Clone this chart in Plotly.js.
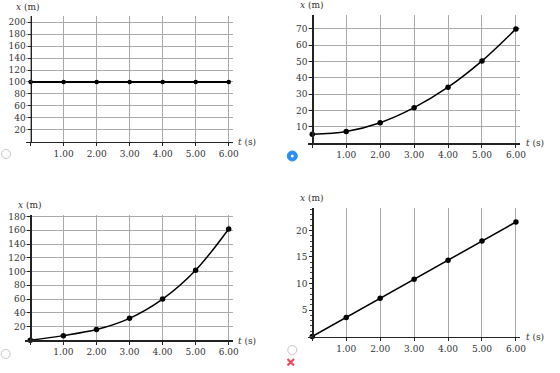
<!DOCTYPE html>
<html>
<head>
<meta charset="utf-8">
<script src="https://cdn.plot.ly/plotly-3.0.1.min.js"></script>
<style>html,body{margin:0;padding:0;background:#fff;}#chart{width:560px;height:373px;}</style>
</head>
<body>
<div id="chart"></div>
<script>
// ---- data ----
const t = [0, 1, 2, 3, 4, 5, 6];
const xA = [100, 100, 100, 100, 100, 100, 100];
const xB = [5.5, 7.2, 12.6, 21.8, 34.3, 50.4, 70];
const xC = [0, 6.8, 15.6, 32, 60, 102, 162];
const xD = [0, 3.6, 7.2, 10.8, 14.4, 18, 21.6];
const tTickVals = [0, 1, 2, 3, 4, 5, 6];
const tTickText = ['', '1.00', '2.00', '3.00', '4.00', '5.00', '6.00'];
const yTicksA = [20, 40, 60, 80, 100, 120, 140, 160, 180, 200];
const yTicksB = [10, 20, 30, 40, 50, 60, 70];
const yTicksC = [20, 40, 60, 80, 100, 120, 140, 160, 180];
const yTicksD = [5, 10, 15, 20];
const yGridD = [10, 20];
const xTitle = '<i>x</i> (m)';
const tTitle = '<i>t</i> (s)';

const W = 560, H = 373;
const px = v => v / W;
const py = v => 1 - v / H;
const FONT = {family: 'DejaVu Serif, serif', size: 9, color: '#333'};
const GRID = '#aaaaaa';

function mk(x, y, xa, ya, shape, lw, ms) {
  return {x: x, y: y, xaxis: xa, yaxis: ya, type: 'scatter', mode: 'lines+markers',
    line: {color: '#000', width: lw, shape: shape, smoothing: 1},
    marker: {color: '#000', size: ms}, cliponaxis: false, showlegend: false, hoverinfo: 'skip'};
}
const data = [
  mk(t, xA, 'x', 'y', 'linear', 2.2, 4.5),
  mk(t, xB, 'x2', 'y2', 'spline', 1.5, 5.5),
  mk(t, xC, 'x3', 'y3', 'spline', 1.5, 5.5),
  mk(t, xD, 'x4', 'y4', 'linear', 1.5, 5.5)
];

function xax(dom, rng, anchor) {
  return {domain: dom, range: rng, anchor: anchor, tickvals: tTickVals, ticktext: tTickText,
    showgrid: true, gridcolor: GRID, gridwidth: 1, zeroline: false, showline: true,
    linecolor: '#222', linewidth: 1.2, ticks: 'outside', ticklen: 3, tickcolor: '#222',
    tickfont: FONT, fixedrange: true};
}
function yax(dom, rng, pos, tv, grid) {
  return {domain: dom, range: rng, anchor: 'free', position: pos, tickvals: tv,
    showgrid: grid, gridcolor: GRID, gridwidth: 1, zeroline: false, showline: true,
    linecolor: '#222', linewidth: 1.2, ticks: 'outside', ticklen: 3, tickcolor: '#222',
    tickfont: FONT, fixedrange: true};
}

const layout = {
  width: W, height: H, autosize: false,
  margin: {l: 0, r: 0, t: 0, b: 0},
  paper_bgcolor: '#fff', plot_bgcolor: '#fff',
  xaxis: xax([px(26), px(232.7)], [-0.14, 6.12], 'y'),
  yaxis: yax([py(141.7), py(16)], [0, 210.5], px(30.6), yTicksA, true),
  xaxis2: xax([px(307.7), px(520)], [-0.135, 6.12], 'y2'),
  yaxis2: yax([py(143.3), py(15)], [0, 78.5], px(312.3), yTicksB, true),
  xaxis3: xax([px(25), px(233)], [-0.16, 6.13], 'y3'),
  yaxis3: yax([py(340.3), py(215)], [0, 182.3], px(30.3), yTicksC, true),
  xaxis4: xax([px(307.7), px(520)], [-0.135, 6.12], 'y4'),
  yaxis4: Object.assign(yax([py(336.5), py(207.7)], [0, 24.3], px(312.3), yTicksD, false),
    {minor: {dtick: 1, tick0: 0, ticks: 'outside', ticklen: 2, tickcolor: '#444', showgrid: false}}),
  yaxis5: {overlaying: 'y4', domain: [py(336.5), py(207.7)], range: [0, 24.3], anchor: 'free',
    position: px(312.3), tickvals: yGridD, showgrid: true, gridcolor: GRID, showticklabels: false,
    ticks: '', showline: false, zeroline: false, fixedrange: true},
  annotations: [
    {text: xTitle, x: px(28), y: py(7)},
    {text: xTitle, x: px(312), y: py(5)},
    {text: xTitle, x: px(30), y: py(205)},
    {text: xTitle, x: px(312), y: py(197.7)},
    {text: tTitle, x: px(247), y: py(142.5)},
    {text: tTitle, x: px(535), y: py(143.5)},
    {text: tTitle, x: px(247), y: py(340.5)},
    {text: tTitle, x: px(535), y: py(337)}
  ].map(a => Object.assign({xref: 'paper', yref: 'paper', showarrow: false,
    xanchor: 'center', yanchor: 'middle', font: FONT}, a)),
  shapes: [
    // radio buttons (UI decoration)
    {type: 'circle', xref: 'paper', yref: 'paper', x0: px(1.5), x1: px(10.5), y0: py(158.5), y1: py(149.5),
      line: {color: '#c8c8c8', width: 1}, fillcolor: '#fff'},
    {type: 'circle', xref: 'paper', yref: 'paper', x0: px(287.3), x1: px(297.3), y0: py(161), y1: py(151),
      line: {color: '#2a8cf5', width: 1}, fillcolor: '#2a8cf5'},
    {type: 'circle', xref: 'paper', yref: 'paper', x0: px(290.8), x1: px(293.8), y0: py(157.5), y1: py(154.5),
      line: {color: '#fff', width: 0}, fillcolor: '#fff'},
    {type: 'circle', xref: 'paper', yref: 'paper', x0: px(1.2), x1: px(10.2), y0: py(358.5), y1: py(349.5),
      line: {color: '#c8c8c8', width: 1}, fillcolor: '#fff'},
    {type: 'circle', xref: 'paper', yref: 'paper', x0: px(287.8), x1: px(296.8), y0: py(354.5), y1: py(345.5),
      line: {color: '#c8c8c8', width: 1}, fillcolor: '#fff'},
    // red cross
    {type: 'line', xref: 'paper', yref: 'paper', x0: px(287.5), x1: px(294), y0: py(359), y1: py(365.5),
      line: {color: '#f04a64', width: 2.2}},
    {type: 'line', xref: 'paper', yref: 'paper', x0: px(287.5), x1: px(294), y0: py(365.5), y1: py(359),
      line: {color: '#f04a64', width: 2.2}}
  ]
};

Plotly.newPlot('chart', data, layout, {staticPlot: true, displayModeBar: false});
</script>
</body>
</html>
